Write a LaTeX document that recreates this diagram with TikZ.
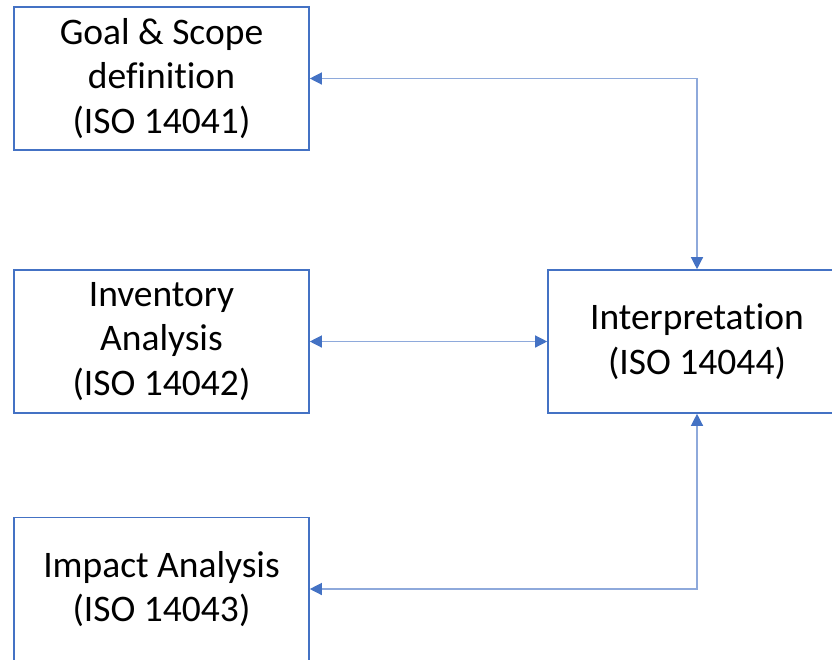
\documentclass[tikz,border=0pt]{standalone}
\usepackage{fontspec}
\setmainfont[Ligatures={NoCommon}]{Carlito}
\usetikzlibrary{arrows.meta}
\definecolor{boxblue}{HTML}{4472C4}
\definecolor{lineblue}{HTML}{8EA9DB}

\begin{document}
\begin{tikzpicture}
        [x = 1pt, y = -1pt, >= {Triangle[length=12pt, width=12pt, color=boxblue]},
         stage/.style = {draw = boxblue, line width = 1.6pt, align = center,
           minimum width = 295pt, minimum height = 143pt, inner sep = 0pt,
           font = \fontsize{37.5}{44.5}\selectfont},
         link/.style = {<->, draw = lineblue, line width = 1.3pt}]
        \clip (0,0) rectangle (832,659);
        \node[stage] (goal) at (161.5,78.5) {Goal \& Scope\\definition\\(ISO 14041)};
        \node[stage] (inventory) at (161.5,341.5) {Inventory\\Analysis\\(ISO 14042)};
        \node[stage] (impact) at (161.5,589) {Impact Analysis\\(ISO 14043)};
        \node[stage, minimum width = 298pt] (interp) at (697,341.5) {Interpretation\\(ISO 14044)};
        \draw[link] (goal.east) -| (interp.north);
        \draw[link] (inventory.east) -- (interp.west);
        \draw[link] (impact.east) -| (interp.south);
      \end{tikzpicture}
\end{document}
